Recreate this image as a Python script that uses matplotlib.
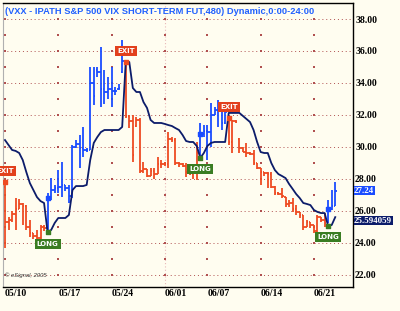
import numpy as np
import matplotlib.pyplot as plt
from matplotlib.transforms import blended_transform_factory

# 480-minute bars, VXX, 05/10 .. 06/22
bar_open = [27.50, 25.30, 25.40, 25.80, 26.10, 26.40, 26.30, 25.00, 24.60, 24.40,
            24.30, 25.00, 24.90, 26.80, 27.30, 27.40, 27.50, 27.60, 27.40, 26.90,
            30.00, 30.20, 29.90, 29.80, 29.80, 34.00, 34.80, 34.70, 33.60, 33.40,
            33.60, 33.50, 33.60, 34.70, 35.30, 31.90, 31.60, 31.30, 31.70, 28.50,
            28.60, 28.20, 28.50, 28.30, 28.90, 28.90, 28.95, 30.50, 30.40, 29.00,
            28.90, 28.80, 28.40, 28.30, 28.40, 29.60, 30.80, 31.00, 30.90, 32.00,
            32.30, 32.70, 31.50, 31.70, 30.30, 31.60, 30.50, 29.90, 29.70, 29.60,
            29.55, 29.00, 28.67, 28.40, 28.35, 28.30, 27.50, 27.10, 27.05, 26.85,
            26.40, 26.50, 26.10, 25.90, 25.70, 25.00, 25.30, 25.10, 24.70, 25.60,
            25.40, 25.20, 26.10, 26.30]
bar_high = [27.80, 25.60, 26.00, 26.80, 26.70, 26.50, 26.35, 25.40, 24.60, 24.80,
            25.10, 25.10, 27.10, 28.05, 27.60, 28.55, 29.05, 27.60, 27.60, 30.10,
            30.40, 30.75, 31.25, 29.95, 35.00, 35.00, 35.00, 36.25, 34.80, 34.40,
            35.00, 33.75, 33.90, 36.70, 35.30, 32.00, 32.00, 31.85, 31.80, 29.05,
            28.60, 28.70, 28.70, 29.35, 29.20, 29.05, 30.90, 30.60, 30.55, 29.05,
            29.00, 29.00, 28.55, 28.55, 30.30, 31.50, 31.36, 31.36, 32.74, 32.50,
            32.93, 32.80, 32.50, 31.80, 31.70, 31.70, 30.55, 30.00, 30.24, 29.70,
            29.80, 29.00, 28.67, 28.45, 28.42, 28.42, 27.55, 27.17, 27.42, 26.85,
            26.67, 26.80, 26.35, 25.90, 25.73, 25.40, 25.30, 25.10, 25.73, 25.60,
            25.85, 26.67, 27.30, 27.80]
bar_low = [23.66, 24.80, 25.30, 24.80, 26.10, 25.10, 24.80, 24.35, 24.20, 24.00,
           23.85, 24.70, 24.60, 26.67, 27.10, 27.10, 26.85, 27.20, 26.50, 26.80,
           29.90, 28.70, 29.35, 29.70, 29.80, 32.60, 34.40, 32.50, 32.70, 33.00,
           32.50, 33.25, 33.55, 34.60, 31.80, 31.20, 29.05, 31.24, 28.36, 28.36,
           28.10, 28.20, 28.00, 28.30, 28.70, 28.80, 28.70, 30.30, 28.86, 28.75,
           28.75, 28.10, 28.25, 28.00, 27.90, 29.30, 30.60, 29.17, 29.98, 32.00,
           31.24, 31.05, 31.40, 30.10, 29.60, 31.50, 29.60, 29.67, 29.36, 29.50,
           28.86, 28.60, 27.60, 28.20, 27.42, 27.42, 26.98, 26.98, 26.80, 26.23,
           26.23, 25.90, 25.73, 25.55, 24.80, 24.98, 24.90, 24.60, 24.47, 25.30,
           24.98, 25.20, 26.05, 26.30]
bar_close = [25.30, 25.40, 25.80, 26.10, 26.40, 26.30, 25.00, 24.60, 24.40, 24.30,
             25.00, 24.90, 26.80, 27.30, 27.40, 27.50, 27.60, 27.40, 26.90, 30.00,
             30.20, 29.90, 29.80, 29.80, 34.00, 33.20, 34.70, 33.60, 33.40, 33.60,
             33.50, 33.50, 33.70, 35.40, 31.90, 31.60, 29.50, 31.70, 28.50, 28.60,
             28.20, 28.50, 28.30, 28.90, 28.90, 28.95, 30.50, 30.40, 29.00, 28.90,
             28.80, 28.40, 28.30, 28.40, 29.60, 30.80, 31.00, 30.90, 32.00, 32.30,
             32.70, 31.50, 32.20, 30.30, 31.60, 31.55, 29.90, 29.70, 29.60, 29.55,
             29.00, 28.70, 28.40, 28.35, 28.30, 27.50, 27.10, 27.05, 26.90, 26.40,
             26.50, 26.10, 25.90, 25.70, 25.00, 25.30, 25.10, 24.70, 25.60, 25.40,
             25.20, 26.10, 26.30, 27.24]
stop_line = [30.42, 30.11, 29.80, 29.74, 29.61, 29.17, 28.42, 27.73, 27.29, 26.85,
             26.60, 26.48, 24.66, 24.79, 25.23, 25.54, 25.54, 25.54, 25.73, 27.29,
             27.54, 27.54, 27.54, 27.61, 29.17, 30.24, 30.61, 30.92, 31.05, 31.05,
             31.05, 31.05, 31.05, 31.24, 35.31, 35.31, 33.68, 33.43, 33.43, 32.80,
             32.43, 31.68, 31.49, 31.49, 31.49, 31.43, 31.36, 31.30, 31.17, 31.05,
             30.74, 30.36, 30.30, 30.30, 30.05, 29.30, 29.61, 30.05, 30.24, 30.30,
             30.30, 30.30, 30.30, 32.12, 32.12, 32.12, 32.12, 31.93, 31.74, 31.55,
             31.05, 30.30, 29.67, 29.61, 29.61, 28.98, 28.54, 28.29, 28.17, 28.04,
             27.67, 27.36, 27.04, 26.79, 26.48, 26.42, 26.35, 26.04, 25.92, 25.85,
             25.85, 25.04, 25.10, 25.594059]

signal_bar = [0, 12, 34, 55, 63, 91]
signal_text = ["EXIT", "LONG", "EXIT", "LONG", "EXIT", "LONG"]

bars_per_day = 3
tick_days = [0, 5, 10, 15, 19, 24, 29]
tick_labels = ["05/10", "05/17", "05/24", "06/01", "06/07", "06/14", "06/21"]
price_ticks = [22, 24, 26, 28, 30, 32, 34, 36, 38]

title = "(VXX - IPATH S&P 500 VIX SHORT-TERM FUT,480) Dynamic,0:00-24:00"

BG = "#fffdf0"
RED = "#ee4b22"
BLUE = "#1a4cff"
NAVY = "#0c1c6a"
GREEN = "#3a7d22"
GRID = "#b05050"

fig = plt.figure(figsize=(4, 3.11), dpi=100, facecolor=BG)
ax = fig.add_axes([0.0075, 0.0772, 0.875, 0.913], facecolor=BG)

x = np.arange(len(bar_close))
side = [""] * len(x)
for i, b in enumerate(signal_bar):
    end = signal_bar[i + 1] if i + 1 < len(signal_bar) else len(x)
    for k in range(b, end):
        side[k] = signal_text[i]
colors = [BLUE if s == "LONG" else RED for s in side]

# grid
for p in price_ticks:
    ax.axhline(p, color=GRID, lw=0.7, ls=(0, (1, 3)), zorder=0)
tick_x = [d * bars_per_day for d in tick_days]
ax.axvline(tick_x[3], color="#e8b8b8", lw=0.8, ls=(0, (1, 2)), zorder=0)
gx, gy = np.meshgrid(tick_x, np.arange(22, 39))
ax.scatter(gx.ravel(), gy.ravel(), s=0.6, marker="s", color=GRID, lw=0, zorder=0)

# OHLC bars
ax.vlines(x, bar_low, bar_high, colors=colors, lw=1.3, zorder=2)
ax.hlines(bar_open, x - 0.45, x, colors=colors, lw=1.3, zorder=2)
ax.hlines(bar_close, x, x + 0.45, colors=colors, lw=1.3, zorder=2)

ax.plot(x, stop_line, color=NAVY, lw=1.3, zorder=3)

for b, s in zip(signal_bar, signal_text):
    if s == "EXIT":
        ax.scatter(b, bar_high[b], s=5, marker="s", color=RED, zorder=4)
        ax.annotate(s, (b, bar_high[b]), xytext=(0, 8), textcoords="offset points",
                    ha="center", va="center", fontsize=5, fontweight="bold", color="white",
                    family="DejaVu Sans", annotation_clip=False,
                    bbox=dict(boxstyle="square,pad=0.3", fc="#e2401c", ec="none"), zorder=5)
    else:
        ax.scatter(b, stop_line[b], s=5, marker="s", color=GREEN, zorder=4)
        ax.scatter(b, bar_close[b], s=5, marker="s", color=BLUE, zorder=4)
        ax.annotate(s, (b, min(bar_low[b], stop_line[b])), xytext=(0, -8), textcoords="offset points",
                    ha="center", va="center", fontsize=5, fontweight="bold", color="white",
                    family="DejaVu Sans", annotation_clip=False,
                    bbox=dict(boxstyle="square,pad=0.3", fc=GREEN, ec="none"), zorder=5)

ax.set_xlim(-0.56, 98.0)
ax.set_ylim(21.22, 39.0)

ax.set_xticks(tick_x)
ax.set_xticklabels(tick_labels, ha="left", family="Liberation Serif", fontweight="bold", fontsize=7)
ax.yaxis.tick_right()
ax.set_yticks(price_ticks)
ax.set_yticklabels(["%.2f" % p for p in price_ticks], family="Liberation Serif",
                   fontweight="bold", fontsize=7)
ax.tick_params(axis="both", length=0, pad=1.5)

for sp in ["right", "bottom", "top"]:
    ax.spines[sp].set_color("black")
    ax.spines[sp].set_linewidth(1.0)
ax.spines["left"].set_color("#b0b0b0")

ax.text(0.005, 0.985, title, transform=ax.transAxes, ha="left", va="top",
        fontsize=6.7, fontweight="bold", color="#2060ff", family="Liberation Sans")
ax.text(0.005, 0.03, "\u00a9 eSignal, 2005", transform=ax.transAxes, ha="left", va="bottom",
        fontsize=4.2, style="italic", color="#333333", family="Liberation Sans")

tr = blended_transform_factory(ax.transAxes, ax.transData)
ax.text(1.003, bar_close[-1], "%.2f" % bar_close[-1], transform=tr, ha="left", va="center",
        fontsize=6.4, fontweight="bold", color="white", family="Liberation Serif",
        bbox=dict(boxstyle="square,pad=0.05", fc=BLUE, ec="none"), zorder=6)
ax.annotate("%.6f" % stop_line[-1], (1.003, stop_line[-1]), xycoords=tr,
            xytext=(0, -2.5), textcoords="offset points", ha="left", va="center",
            fontsize=6.4, fontweight="bold", color="white", family="Liberation Serif",
            bbox=dict(boxstyle="square,pad=0.05", fc=NAVY, ec="none"), zorder=6,
            annotation_clip=False)

fig.savefig("out.png", dpi=100, facecolor=BG)
